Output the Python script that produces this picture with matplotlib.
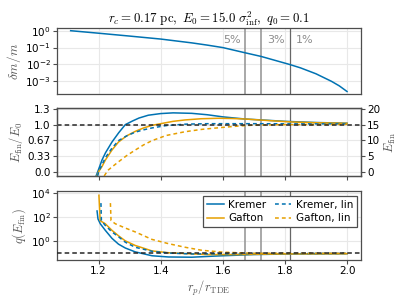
import numpy as np
import matplotlib.pyplot as plt

plt.rcParams['font.family'] = 'DejaVu Sans'
plt.rcParams['mathtext.fontset'] = 'cm'

BLUE = '#0072B2'
ORANGE = '#E69F00'

# top panel: mass fraction
rp_dm = [1.11, 1.2, 1.3, 1.4, 1.5, 1.55, 1.6, 1.67, 1.723, 1.815, 1.85, 1.9, 1.95, 1.975, 2.0]
dm_m = [1.0, 0.71, 0.48, 0.32, 0.19, 0.14, 0.1, 0.05, 0.03, 0.01, 0.0063, 0.0028, 0.001,
        0.00054, 0.00025]

# percent lines
pct_x = [1.67, 1.723, 1.815]
pct_labels = ['5%', '3%', '1%']
pct_label_x = [1.657, 1.742, 1.836]

# middle panel: E_fin / E_0
E0 = 15.0
rp_kr = [1.192, 1.2, 1.211, 1.222, 1.243, 1.265, 1.286, 1.31, 1.33, 1.36, 1.4, 1.44, 1.5,
         1.55, 1.6, 1.67, 1.75, 1.8, 1.9, 2.0]
e_kr = [-0.09, 0.05, 0.25, 0.4, 0.63, 0.83, 1.0, 1.08, 1.14, 1.2, 1.235, 1.25, 1.24,
        1.21, 1.165, 1.12, 1.09, 1.07, 1.045, 1.03]
rp_ga = [1.195, 1.2, 1.211, 1.222, 1.243, 1.264, 1.29, 1.318, 1.345, 1.372, 1.4, 1.44,
         1.479, 1.53, 1.586, 1.63, 1.67, 1.75, 1.818, 1.9, 2.0]
e_ga = [-0.09, 0.0, 0.11, 0.25, 0.46, 0.63, 0.76, 0.857, 0.93, 0.985, 1.02, 1.07,
        1.10, 1.125, 1.135, 1.13, 1.12, 1.085, 1.058, 1.04, 1.028]
rp_krl = [1.197, 1.2, 1.211, 1.222, 1.243, 1.264, 1.29, 1.318, 1.345, 1.372, 1.418, 1.48,
          1.55, 1.7, 1.85, 2.0]
e_krl = [-0.09, 0.0, 0.15, 0.3, 0.5, 0.66, 0.76, 0.84, 0.89, 0.93, 0.98, 1.01,
         1.02, 1.02, 1.017, 1.015]
rp_gal = [1.218, 1.23, 1.243, 1.264, 1.29, 1.318, 1.345, 1.372, 1.418, 1.479, 1.533,
          1.597, 1.65, 1.7, 1.8, 2.0]
e_gal = [-0.09, 0.03, 0.1, 0.21, 0.34, 0.46, 0.57, 0.66, 0.77, 0.85, 0.9,
         0.94, 0.97, 0.99, 1.0, 1.005]

# bottom panel: q(E_fin), log10 values
q0 = 0.1
rp_q_kr = [1.195, 1.198, 1.2055, 1.2216, 1.243, 1.264, 1.286, 1.318, 1.372, 1.425, 1.5,
           1.58, 1.7, 1.8, 2.0]
lq_kr = [2.5, 1.84, 1.44, 0.9, 0.24, -0.24, -0.56, -0.88, -1.2, -1.3, -1.32,
         -1.22, -1.1, -1.06, -1.03]
rp_q_ga = [1.201, 1.205, 1.2216, 1.243, 1.264, 1.286, 1.318, 1.372, 1.425, 1.479, 1.55,
           1.65, 1.8, 2.0]
lq_ga = [3.8, 1.7, 1.44, 0.9, 0.45, 0.03, -0.35, -0.8, -0.95, -1.02, -1.1,
         -1.1, -1.05, -1.03]
rp_q_krl = [1.2075, 1.209, 1.2216, 1.243, 1.264, 1.286, 1.318, 1.372, 1.43, 1.5, 1.7, 2.0]
lq_krl = [3.15, 1.7, 1.3, 0.77, 0.37, -0.08, -0.5, -0.83, -0.98, -1.05, -1.02, -1.0]
rp_q_gal = [1.238, 1.24, 1.254, 1.286, 1.318, 1.372, 1.425, 1.479, 1.533, 1.6, 1.7, 2.0]
lq_gal = [3.15, 1.7, 1.44, 1.09, 0.77, 0.15, -0.2, -0.5, -0.75, -0.9, -1.0, -1.0]

fig = plt.figure(figsize=(4.07, 3.06), dpi=100)
L, W = 57/407, 304/407
ax1 = fig.add_axes([L, 1 - 94/306, W, 66/306])
ax2 = fig.add_axes([L, 1 - 176/306, W, 68/306])
ax3 = fig.add_axes([L, 1 - 260/306, W, 69/306])

for ax in (ax1, ax2, ax3):
    ax.set_xlim(1.066, 2.045)
    ax.set_xticks([1.2, 1.4, 1.6, 1.8, 2.0])
    ax.grid(True, color='0.91', lw=0.8, zorder=0)
    ax.set_axisbelow(True)
    for s in ax.spines.values():
        s.set_color('0.3')
        s.set_linewidth(0.9)
    ax.tick_params(direction='out', length=3, width=0.8, color='0.3', labelsize=7.5, pad=1.5)
    for i, xv in enumerate(pct_x):
        ax.axvline(xv, color='0.6' if i < 2 else '0.4', lw=1.2 if i < 2 else 0.9, zorder=1.5)

# top
ax1.plot(rp_dm, dm_m, color=BLUE, lw=1.1, zorder=3)
ax1.set_yscale('log')
ax1.set_ylim(10**-3.75, 10**0.16)
ax1.set_yticks([1, 0.1, 0.01, 0.001])
ax1.set_yticklabels([r'$\mathdefault{10^{0}}$', r'$\mathdefault{10^{-1}}$',
                     r'$\mathdefault{10^{-2}}$', r'$\mathdefault{10^{-3}}$'])
ax1.minorticks_off()
ax1.tick_params(axis='x', length=0, labelbottom=False)
ax1.set_ylabel(r'$\delta m / m$', color='0.35', fontsize=9.5, labelpad=2)
for lx, lab in zip(pct_label_x, pct_labels):
    ax1.text(lx, 0.3, lab, color='0.55', fontsize=8, va='center',
             ha='right' if lab == '5%' else 'left')
ax1.set_title(r'$r_c = 0.17\ \mathrm{pc},\ E_0 = 15.0\ \sigma_{\mathrm{inf}}^2,\ q_0 = 0.1$',
              fontsize=9.3, pad=3)

# middle
ax2.plot(rp_kr, e_kr, color=BLUE, lw=1.1, zorder=3)
ax2.plot(rp_ga, e_ga, color=ORANGE, lw=1.1, zorder=3)
ax2.plot(rp_krl, e_krl, color=BLUE, lw=1.1, ls=(0, (2.5, 2)), zorder=3)
ax2.plot(rp_gal, e_gal, color=ORANGE, lw=1.1, ls=(0, (2.5, 2)), zorder=3)
ax2.axhline(1.0, color='0.15', lw=1.1, ls=(0, (3, 2)), zorder=4)
ylo, yhi = -1.37, 20.3
ax2.set_ylim(ylo / E0, yhi / E0)
ax2.set_yticks([0, 1/3, 2/3, 1, 4/3])
ax2.set_yticklabels(['0.0', '0.33', '0.67', '1.0', '1.3'])
ax2.tick_params(axis='x', labelbottom=False)
ax2.set_ylabel(r'$E_{\mathrm{fin}} / E_0$', color='0.35', fontsize=9, labelpad=2)
ax2r = ax2.twinx()
ax2r.set_ylim(ylo, yhi)
ax2r.set_yticks([0, 5, 10, 15, 20])
ax2r.tick_params(direction='out', length=3, width=0.8, color='0.3', labelsize=7.5, pad=1.5)
for s in ax2r.spines.values():
    s.set_color('0.3')
    s.set_linewidth(0.9)
ax2r.set_ylabel(r'$E_{\mathrm{fin}}$', color='0.35', fontsize=9, labelpad=2)

# bottom
ax3.plot(rp_q_kr, 10**np.array(lq_kr), color=BLUE, lw=1.1, zorder=3, label='Kremer')
ax3.plot(rp_q_ga, 10**np.array(lq_ga), color=ORANGE, lw=1.1, zorder=3, label='Gafton')
ax3.plot(rp_q_krl, 10**np.array(lq_krl), color=BLUE, lw=1.1, ls=(0, (2.5, 2)), zorder=3,
         label='Kremer, lin')
ax3.plot(rp_q_gal, 10**np.array(lq_gal), color=ORANGE, lw=1.1, ls=(0, (2.5, 2)), zorder=3,
         label='Gafton, lin')
ax3.axhline(q0, color='0.15', lw=1.1, ls=(0, (3, 2)), zorder=4)
ax3.set_yscale('log')
ax3.set_ylim(10**-1.55, 10**4.15)
ax3.set_yticks([1, 100, 1e4])
ax3.set_yticklabels([r'$\mathdefault{10^{0}}$', r'$\mathdefault{10^{2}}$', r'$\mathdefault{10^{4}}$'])
ax3.minorticks_off()
ax3.set_ylabel(r'$q(E_{\mathrm{fin}})$', color='0.35', fontsize=9, labelpad=2)
ax3.set_xlabel(r'$r_p / r_{\mathrm{TDE}}$', color='0.35', fontsize=9, labelpad=2)
leg = ax3.legend(ncol=2, loc='upper right', bbox_to_anchor=(0.987, 0.928), borderaxespad=0,
                 fontsize=7.5, frameon=True, fancybox=False, framealpha=1,
                 handlelength=1.6, handletextpad=0.4, columnspacing=0.8,
                 borderpad=0.4, labelspacing=0.3)
leg.get_frame().set_edgecolor('0.3')
leg.get_frame().set_linewidth(0.9)
leg.set_zorder(10)

fig.savefig('out.png', dpi=100)
